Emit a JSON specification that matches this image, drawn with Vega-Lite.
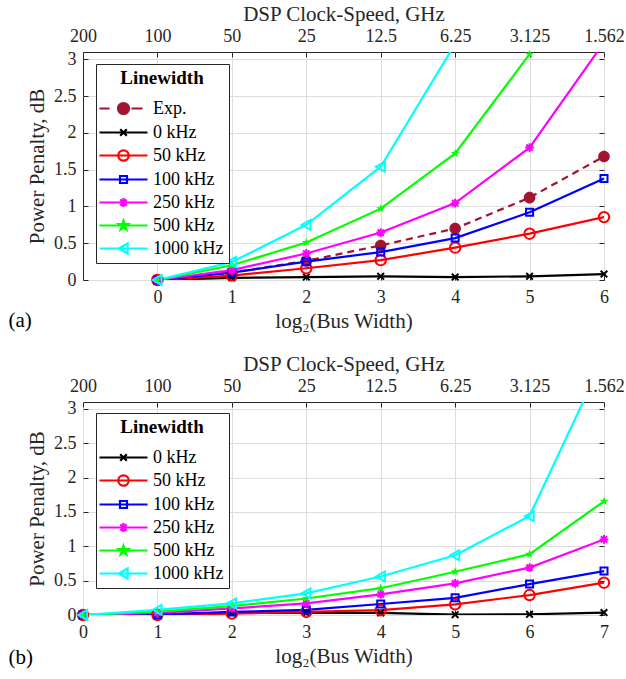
{
  "$schema": "https://vega.github.io/schema/vega-lite/v6.json",
  "padding": {"left": 8, "top": 2, "right": 0, "bottom": 0},
  "background": "white",
  "datasets": {
    "a": [
      {"s": "Exp.", "x": 0, "y": 0}, {"s": "Exp.", "x": 1, "y": 0.1}, {"s": "Exp.", "x": 2, "y": 0.26}, {"s": "Exp.", "x": 3, "y": 0.47}, {"s": "Exp.", "x": 4, "y": 0.7}, {"s": "Exp.", "x": 5, "y": 1.12}, {"s": "Exp.", "x": 6, "y": 1.68},
      {"s": "0 kHz", "x": 0, "y": 0}, {"s": "0 kHz", "x": 1, "y": 0.03}, {"s": "0 kHz", "x": 2, "y": 0.04}, {"s": "0 kHz", "x": 3, "y": 0.05}, {"s": "0 kHz", "x": 4, "y": 0.04}, {"s": "0 kHz", "x": 5, "y": 0.05}, {"s": "0 kHz", "x": 6, "y": 0.08},
      {"s": "50 kHz", "x": 0, "y": 0}, {"s": "50 kHz", "x": 1, "y": 0.06}, {"s": "50 kHz", "x": 2, "y": 0.16}, {"s": "50 kHz", "x": 3, "y": 0.27}, {"s": "50 kHz", "x": 4, "y": 0.44}, {"s": "50 kHz", "x": 5, "y": 0.63}, {"s": "50 kHz", "x": 6, "y": 0.855},
      {"s": "100 kHz", "x": 0, "y": 0}, {"s": "100 kHz", "x": 1, "y": 0.1}, {"s": "100 kHz", "x": 2, "y": 0.25}, {"s": "100 kHz", "x": 3, "y": 0.38}, {"s": "100 kHz", "x": 4, "y": 0.57}, {"s": "100 kHz", "x": 5, "y": 0.92}, {"s": "100 kHz", "x": 6, "y": 1.38},
      {"s": "250 kHz", "x": 0, "y": 0}, {"s": "250 kHz", "x": 1, "y": 0.135}, {"s": "250 kHz", "x": 2, "y": 0.36}, {"s": "250 kHz", "x": 3, "y": 0.645}, {"s": "250 kHz", "x": 4, "y": 1.045}, {"s": "250 kHz", "x": 5, "y": 1.8}, {"s": "250 kHz", "x": 6, "y": 3.23},
      {"s": "500 kHz", "x": 0, "y": 0}, {"s": "500 kHz", "x": 1, "y": 0.2}, {"s": "500 kHz", "x": 2, "y": 0.51}, {"s": "500 kHz", "x": 3, "y": 0.97}, {"s": "500 kHz", "x": 4, "y": 1.72}, {"s": "500 kHz", "x": 5, "y": 3.07},
      {"s": "1000 kHz", "x": 0, "y": 0}, {"s": "1000 kHz", "x": 1, "y": 0.245}, {"s": "1000 kHz", "x": 2, "y": 0.75}, {"s": "1000 kHz", "x": 3, "y": 1.54}, {"s": "1000 kHz", "x": 4, "y": 3.21}
    ],
    "b": [
      {"s": "0 kHz", "x": 0, "y": 0}, {"s": "0 kHz", "x": 1, "y": 0.01}, {"s": "0 kHz", "x": 2, "y": 0.03}, {"s": "0 kHz", "x": 3, "y": 0.03}, {"s": "0 kHz", "x": 4, "y": 0.03}, {"s": "0 kHz", "x": 5, "y": 0.005}, {"s": "0 kHz", "x": 6, "y": 0.01}, {"s": "0 kHz", "x": 7, "y": 0.035},
      {"s": "50 kHz", "x": 0, "y": 0}, {"s": "50 kHz", "x": 1, "y": 0.0}, {"s": "50 kHz", "x": 2, "y": 0.02}, {"s": "50 kHz", "x": 3, "y": 0.045}, {"s": "50 kHz", "x": 4, "y": 0.07}, {"s": "50 kHz", "x": 5, "y": 0.155}, {"s": "50 kHz", "x": 6, "y": 0.29}, {"s": "50 kHz", "x": 7, "y": 0.47},
      {"s": "100 kHz", "x": 0, "y": 0}, {"s": "100 kHz", "x": 1, "y": 0.005}, {"s": "100 kHz", "x": 2, "y": 0.045}, {"s": "100 kHz", "x": 3, "y": 0.075}, {"s": "100 kHz", "x": 4, "y": 0.16}, {"s": "100 kHz", "x": 5, "y": 0.25}, {"s": "100 kHz", "x": 6, "y": 0.45}, {"s": "100 kHz", "x": 7, "y": 0.64},
      {"s": "250 kHz", "x": 0, "y": 0}, {"s": "250 kHz", "x": 1, "y": 0.03}, {"s": "250 kHz", "x": 2, "y": 0.095}, {"s": "250 kHz", "x": 3, "y": 0.17}, {"s": "250 kHz", "x": 4, "y": 0.3}, {"s": "250 kHz", "x": 5, "y": 0.46}, {"s": "250 kHz", "x": 6, "y": 0.69}, {"s": "250 kHz", "x": 7, "y": 1.1},
      {"s": "500 kHz", "x": 0, "y": 0}, {"s": "500 kHz", "x": 1, "y": 0.05}, {"s": "500 kHz", "x": 2, "y": 0.13}, {"s": "500 kHz", "x": 3, "y": 0.24}, {"s": "500 kHz", "x": 4, "y": 0.39}, {"s": "500 kHz", "x": 5, "y": 0.63}, {"s": "500 kHz", "x": 6, "y": 0.885}, {"s": "500 kHz", "x": 7, "y": 1.655},
      {"s": "1000 kHz", "x": 0, "y": 0}, {"s": "1000 kHz", "x": 1, "y": 0.075}, {"s": "1000 kHz", "x": 2, "y": 0.17}, {"s": "1000 kHz", "x": 3, "y": 0.315}, {"s": "1000 kHz", "x": 4, "y": 0.56}, {"s": "1000 kHz", "x": 5, "y": 0.87}, {"s": "1000 kHz", "x": 6, "y": 1.44}, {"s": "1000 kHz", "x": 7, "y": 3.75}
    ]
  },
  "spacing": 20,
  "vconcat": [
    {
      "width": 521,
      "height": 228,
      "data": {"name": "a"},
      "title": {"text": "(a)", "orient": "bottom", "anchor": "start", "frame": "bounds", "font": "Liberation Serif", "fontSize": 21, "fontWeight": "normal", "color": "#000000", "dx": -18, "dy": -21, "offset": 0},
      "encoding": {
        "x": {"field": "x", "type": "quantitative", "scale": {"domain": [-1, 6], "nice": false, "zero": false}, "axis": null},
        "y": {"field": "y", "type": "quantitative", "scale": {"domain": [0, 3.1], "nice": false, "zero": false}, "axis": null}
      },
      "layer": [
        {
          "transform": [{"filter": "datum.s === 'Exp.'"}],
          "mark": {"type": "line", "strokeWidth": 2.2, "strokeDash": [7, 5], "clip": true},
          "encoding": {
            "x": {"field": "x", "type": "quantitative", "scale": {"domain": [-1, 6], "nice": false, "zero": false},
                  "axis": {"orient": "bottom", "values": [0, 1, 2, 3, 4, 5, 6], "grid": true, "title": "log₂(Bus Width)", "labelPadding": 13, "titlePadding": 4}},
            "y": {"field": "y", "type": "quantitative", "scale": {"domain": [0, 3.1], "nice": false, "zero": false},
                  "axis": {"orient": "left", "values": [0, 0.5, 1, 1.5, 2, 2.5, 3], "format": "~g", "grid": true, "title": "Power Penalty, dB", "labelPadding": 12, "titlePadding": 6}},
            "color": {"field": "s", "type": "nominal",
                      "scale": {"domain": ["Exp.", "0 kHz", "50 kHz", "100 kHz", "250 kHz", "500 kHz", "1000 kHz"], "range": ["#a2142f", "#000000", "#ff0000", "#0000ff", "#ff00ff", "#00ff00", "#00ffff"]},
                      "legend": {"orient": "none", "legendX": 13, "legendY": 12, "title": "Linewidth",
                        "encode": {
                          "entries": {"update": {
                            "width": {"value": 127},
                            "height": {"value": -8.2},
                            "stroke": {"signal": "datum.value === 'Exp.' ? '#262626' : null"},
                            "strokeWidth": {"value": 1},
                            "strokeDash": {"value": [0, 135.2, 127, 2000]}
                          }},
                          "symbols": {"update": {
                          "shape": {"signal": "{'Exp.':'M-2.4,0H-1.4M-0.6,0H0.6M0.8,0H1.9M0.55,0A0.55,0.55 0 1,1 -0.55,0A0.55,0.55 0 1,1 0.55,0Z','0 kHz':'M-2.4,0H2.4M-0.33,-0.33L0.33,0.33M-0.33,0.33L0.33,-0.33','50 kHz':'M-2.4,0H2.4M0.52,0A0.52,0.52 0 1,1 -0.52,0A0.52,0.52 0 1,1 0.52,0Z','100 kHz':'M-2.4,0H2.4M-0.35,-0.35H0.35V0.35H-0.35Z','250 kHz':'M-2.4,0H2.4M0,-0.44V0.44M-0.31,-0.31L0.31,0.31M-0.31,0.31L0.31,-0.31','500 kHz':'M-2.4,0H2.4M0,-0.47L0.105,-0.145L0.444,-0.145L0.17,0.055L0.275,0.378L0,0.179L-0.275,0.378L-0.17,0.055L-0.444,-0.145L-0.105,-0.145Z','1000 kHz':'M-2.4,0H2.4M-0.47,0L0.41,-0.5L0.41,0.5Z'}[datum.value]"},
                          "stroke": {"signal": "{'Exp.':'#a2142f','0 kHz':'#000000','50 kHz':'#ff0000','100 kHz':'#0000ff','250 kHz':'#ff00ff','500 kHz':'#00ff00','1000 kHz':'#00ffff'}[datum.value]"},
                          "fill": {"signal": "{'Exp.':'#a2142f','500 kHz':'#00ff00'}[datum.value] || 'transparent'"},
                          "strokeWidth": {"value": 2.2},
                          "strokeDash": {"value": []},
                          "size": {"value": 400},
                          "opacity": {"value": 1}
                        }}}}}
          }
        },
        {
          "transform": [{"filter": "datum.s === 'Exp.'"}],
          "mark": {"type": "point", "filled": true, "color": "#a2142f", "size": 121, "opacity": 1, "shape": "M1.05,0A1.05,1.05 0 1,1 -1.05,0A1.05,1.05 0 1,1 1.05,0Z"},
          "encoding": {
            "x": {"field": "x", "type": "quantitative", "scale": {"domain": [-1, 6], "nice": false, "zero": false}, "axis": {"orient": "top", "values": [-1, 0, 1, 2, 3, 4, 5, 6], "labelExpr": "['200','100','50','25','12.5','6.25','3.125','1.562'][datum.value + 1]", "title": "DSP Clock-Speed, GHz", "grid": false, "labelPadding": 12, "titlePadding": 3}},
            "y": {"field": "y", "type": "quantitative", "scale": {"domain": [0, 3.1], "nice": false, "zero": false}, "axis": {"orient": "right", "values": [0, 0.5, 1, 1.5, 2, 2.5, 3], "labels": false, "title": null, "grid": false}}
          }
        },
        {
          "transform": [{"filter": "datum.s !== 'Exp.'"}],
          "mark": {"type": "line", "strokeWidth": 2.2, "clip": true},
          "encoding": {"color": {"field": "s", "type": "nominal"}}
        },
        {
          "transform": [{"filter": "datum.s === '0 kHz' && datum.y <= 3.1"}],
          "mark": {"type": "point", "filled": false, "color": "#000000", "size": 121, "strokeWidth": 2, "opacity": 1, "shape": "M-0.6,-0.6L0.6,0.6M-0.6,0.6L0.6,-0.6"}
        },
        {
          "transform": [{"filter": "datum.s === '50 kHz' && datum.y <= 3.1"}],
          "mark": {"type": "point", "filled": false, "color": "#ff0000", "size": 121, "strokeWidth": 2, "opacity": 1, "shape": "M0.95,0A0.95,0.95 0 1,1 -0.95,0A0.95,0.95 0 1,1 0.95,0Z"}
        },
        {
          "transform": [{"filter": "datum.s === '100 kHz' && datum.y <= 3.1"}],
          "mark": {"type": "point", "filled": false, "color": "#0000ff", "size": 121, "strokeWidth": 2, "opacity": 1, "shape": "M-0.64,-0.64H0.64V0.64H-0.64Z"}
        },
        {
          "transform": [{"filter": "datum.s === '250 kHz' && datum.y <= 3.1"}],
          "mark": {"type": "point", "filled": false, "color": "#ff00ff", "size": 121, "strokeWidth": 2, "opacity": 1, "shape": "M-0.8,0H0.8M0,-0.8V0.8M-0.57,-0.57L0.57,0.57M-0.57,0.57L0.57,-0.57"}
        },
        {
          "transform": [{"filter": "datum.s === '500 kHz' && datum.y <= 3.1"}],
          "mark": {"type": "point", "filled": true, "color": "#00ff00", "size": 121, "opacity": 1, "shape": "M0,-0.85L0.191,-0.263L0.808,-0.263L0.309,0.1L0.5,0.688L0,0.325L-0.5,0.688L-0.309,0.1L-0.808,-0.263L-0.191,-0.263Z"}
        },
        {
          "transform": [{"filter": "datum.s === '1000 kHz' && datum.y <= 3.1"}],
          "mark": {"type": "point", "filled": false, "color": "#00ffff", "size": 121, "strokeWidth": 2, "opacity": 1, "shape": "M-0.85,0L0.75,-0.9L0.75,0.9Z"}
        }
      ],
      "resolve": {"axis": {"x": "independent", "y": "independent"}}
    },
    {
      "width": 521,
      "height": 213,
      "data": {"name": "b"},
      "title": {"text": "(b)", "orient": "bottom", "anchor": "start", "frame": "bounds", "font": "Liberation Serif", "fontSize": 21, "fontWeight": "normal", "color": "#000000", "dx": -18, "dy": -19, "offset": 0},
      "encoding": {
        "x": {"field": "x", "type": "quantitative", "scale": {"domain": [0, 7], "nice": false, "zero": false}, "axis": null},
        "y": {"field": "y", "type": "quantitative", "scale": {"domain": [0, 3.1], "nice": false, "zero": false}, "axis": null}
      },
      "layer": [
        {
          "mark": {"type": "line", "strokeWidth": 2.2, "clip": true},
          "encoding": {
            "x": {"field": "x", "type": "quantitative", "scale": {"domain": [0, 7], "nice": false, "zero": false},
                  "axis": {"orient": "bottom", "values": [0, 1, 2, 3, 4, 5, 6, 7], "grid": true, "title": "log₂(Bus Width)", "labelPadding": 13, "titlePadding": 4}},
            "y": {"field": "y", "type": "quantitative", "scale": {"domain": [0, 3.1], "nice": false, "zero": false},
                  "axis": {"orient": "left", "values": [0, 0.5, 1, 1.5, 2, 2.5, 3], "format": "~g", "grid": true, "title": "Power Penalty, dB", "labelPadding": 12, "titlePadding": 6}},
            "color": {"field": "s", "type": "nominal",
                      "scale": {"domain": ["0 kHz", "50 kHz", "100 kHz", "250 kHz", "500 kHz", "1000 kHz"], "range": ["#000000", "#ff0000", "#0000ff", "#ff00ff", "#00ff00", "#00ffff"]},
                      "legend": {"orient": "none", "legendX": 13, "legendY": 11, "title": "Linewidth",
                        "encode": {
                          "entries": {"update": {
                            "width": {"value": 127},
                            "height": {"value": -8.2},
                            "stroke": {"signal": "datum.value === '0 kHz' ? '#262626' : null"},
                            "strokeWidth": {"value": 1},
                            "strokeDash": {"value": [0, 135.2, 127, 2000]}
                          }},
                          "symbols": {"update": {
                          "shape": {"signal": "{'0 kHz':'M-2.4,0H2.4M-0.33,-0.33L0.33,0.33M-0.33,0.33L0.33,-0.33','50 kHz':'M-2.4,0H2.4M0.52,0A0.52,0.52 0 1,1 -0.52,0A0.52,0.52 0 1,1 0.52,0Z','100 kHz':'M-2.4,0H2.4M-0.35,-0.35H0.35V0.35H-0.35Z','250 kHz':'M-2.4,0H2.4M0,-0.44V0.44M-0.31,-0.31L0.31,0.31M-0.31,0.31L0.31,-0.31','500 kHz':'M-2.4,0H2.4M0,-0.47L0.105,-0.145L0.444,-0.145L0.17,0.055L0.275,0.378L0,0.179L-0.275,0.378L-0.17,0.055L-0.444,-0.145L-0.105,-0.145Z','1000 kHz':'M-2.4,0H2.4M-0.47,0L0.41,-0.5L0.41,0.5Z'}[datum.value]"},
                          "stroke": {"signal": "{'0 kHz':'#000000','50 kHz':'#ff0000','100 kHz':'#0000ff','250 kHz':'#ff00ff','500 kHz':'#00ff00','1000 kHz':'#00ffff'}[datum.value]"},
                          "fill": {"signal": "{'500 kHz':'#00ff00'}[datum.value] || 'transparent'"},
                          "strokeWidth": {"value": 2.2},
                          "strokeDash": {"value": []},
                          "size": {"value": 400},
                          "opacity": {"value": 1}
                        }}}}}
          }
        },
        {
          "transform": [{"filter": "datum.s === '0 kHz' && datum.y <= 3.1"}],
          "mark": {"type": "point", "filled": false, "color": "#000000", "size": 121, "strokeWidth": 2, "opacity": 1, "shape": "M-0.6,-0.6L0.6,0.6M-0.6,0.6L0.6,-0.6"},
          "encoding": {
            "x": {"field": "x", "type": "quantitative", "scale": {"domain": [0, 7], "nice": false, "zero": false}, "axis": {"orient": "top", "values": [0, 1, 2, 3, 4, 5, 6, 7], "labelExpr": "['200','100','50','25','12.5','6.25','3.125','1.562'][datum.value]", "title": "DSP Clock-Speed, GHz", "grid": false, "labelPadding": 12, "titlePadding": 3}},
            "y": {"field": "y", "type": "quantitative", "scale": {"domain": [0, 3.1], "nice": false, "zero": false}, "axis": {"orient": "right", "values": [0, 0.5, 1, 1.5, 2, 2.5, 3], "labels": false, "title": null, "grid": false}}
          }
        },
        {
          "transform": [{"filter": "datum.s === '50 kHz' && datum.y <= 3.1"}],
          "mark": {"type": "point", "filled": false, "color": "#ff0000", "size": 121, "strokeWidth": 2, "opacity": 1, "shape": "M0.95,0A0.95,0.95 0 1,1 -0.95,0A0.95,0.95 0 1,1 0.95,0Z"}
        },
        {
          "transform": [{"filter": "datum.s === '100 kHz' && datum.y <= 3.1"}],
          "mark": {"type": "point", "filled": false, "color": "#0000ff", "size": 121, "strokeWidth": 2, "opacity": 1, "shape": "M-0.64,-0.64H0.64V0.64H-0.64Z"}
        },
        {
          "transform": [{"filter": "datum.s === '250 kHz' && datum.y <= 3.1"}],
          "mark": {"type": "point", "filled": false, "color": "#ff00ff", "size": 121, "strokeWidth": 2, "opacity": 1, "shape": "M-0.8,0H0.8M0,-0.8V0.8M-0.57,-0.57L0.57,0.57M-0.57,0.57L0.57,-0.57"}
        },
        {
          "transform": [{"filter": "datum.s === '500 kHz' && datum.y <= 3.1"}],
          "mark": {"type": "point", "filled": true, "color": "#00ff00", "size": 121, "opacity": 1, "shape": "M0,-0.85L0.191,-0.263L0.808,-0.263L0.309,0.1L0.5,0.688L0,0.325L-0.5,0.688L-0.309,0.1L-0.808,-0.263L-0.191,-0.263Z"}
        },
        {
          "transform": [{"filter": "datum.s === '1000 kHz' && datum.y <= 3.1"}],
          "mark": {"type": "point", "filled": false, "color": "#00ffff", "size": 121, "strokeWidth": 2, "opacity": 1, "shape": "M-0.85,0L0.75,-0.9L0.75,0.9Z"}
        }
      ],
      "resolve": {"axis": {"x": "independent", "y": "independent"}}
    }
  ],
  "resolve": {"scale": {"x": "independent", "y": "independent", "color": "independent"}, "legend": {"color": "independent"}},
  "config": {
    "font": "Liberation Serif",
    "view": {"stroke": "#262626", "strokeWidth": 1},
    "axis": {"labelFont": "Liberation Serif", "labelFontSize": 18, "labelColor": "#262626", "titleFont": "Liberation Serif", "titleFontSize": 21, "titleFontWeight": "normal", "titleColor": "#262626", "tickColor": "#262626", "tickSize": -5, "tickWidth": 1, "domain": false, "gridColor": "#dedede", "gridOpacity": 1, "gridWidth": 1, "labelFlush": false, "labelOverlap": false, "labelBound": false},
    "legend": {"titleFont": "Liberation Serif", "titleFontSize": 19, "titleFontWeight": "bold", "titleColor": "#000000", "titleAnchor": "middle", "titleAlign": "center", "titlePadding": 9, "labelFont": "Liberation Serif", "labelFontSize": 18, "labelColor": "#000000", "symbolSize": 400, "symbolOffset": 11, "labelOffset": 18, "padding": 5, "rowPadding": 2, "strokeColor": "#262626", "fillColor": "white"}
  }
}
